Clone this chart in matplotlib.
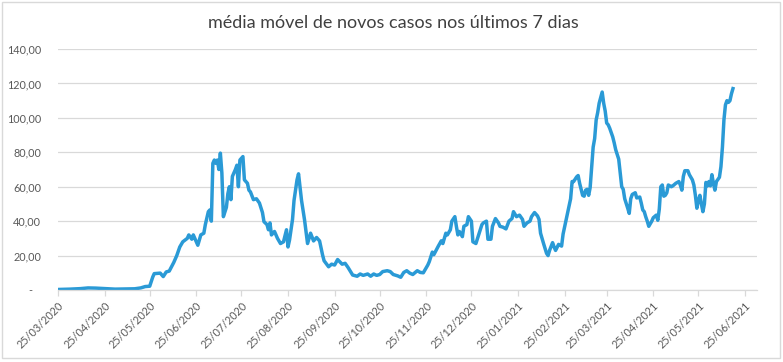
########################################################################################################################
# Media movel de novos casos - 7 dias
########################################################################################################################
import numpy as np
import pandas as pd
import matplotlib
matplotlib.use("Agg")
from matplotlib import pyplot as plt
import matplotlib.dates as mdates
from matplotlib.patches import Rectangle
########################################################################################################################
# Dados (dias contados a partir de 25/03/2020 e media movel)
inicio = "2020-03-25"
dias = [0, 8, 15, 20, 25, 31, 38, 45, 51, 55, 58, 61, 63, 64, 68, 70, 72, 74, 77, 79,
        81, 83, 86, 87, 89, 90, 92, 93, 95, 97, 98, 100, 101, 102, 103, 104, 105, 106, 107, 108,
        109, 110, 112, 113, 114, 115, 116, 118, 119, 120, 121, 123, 124, 126, 127, 128, 130, 132, 134, 136,
        137, 139, 140, 141, 142, 144, 146, 148, 150, 152, 153, 154, 156, 157, 159, 160, 162, 164, 166, 168,
        170, 172, 174, 176, 177, 180, 182, 184, 186, 189, 191, 193, 196, 199, 201, 203, 206, 208, 210, 212,
        214, 216, 219, 221, 223, 226, 228, 230, 232, 234, 236, 239, 241, 243, 246, 247, 249, 250, 253, 255,
        256, 258, 259, 261, 262, 264, 265, 266, 267, 269, 270, 272, 273, 275, 276, 278, 280, 282, 283, 285,
        286, 288, 289, 291, 293, 294, 296, 298, 300, 302, 303, 305, 307, 309, 310, 312, 314, 315, 317, 319,
        320, 321, 323, 325, 326, 327, 329, 330, 331, 333, 334, 335, 336, 338, 339, 341, 342, 343, 345, 346,
        347, 349, 350, 351, 352, 353, 354, 355, 356, 357, 358, 359, 360, 362, 363, 364, 365, 366, 367, 369,
        370, 371, 373, 374, 375, 376, 377, 379, 380, 381, 382, 384, 385, 387, 388, 389, 390, 391, 392, 393,
        395, 396, 398, 399, 400, 401, 402, 403, 404, 405, 406, 408, 409, 411, 413, 414, 415, 416, 417, 419,
        420, 422, 423, 424, 425, 426, 427, 428, 429, 430, 431, 432, 433, 434, 435, 436, 437, 438, 440, 441,
        442, 443, 444, 445, 446, 447, 448, 449]
media = [0.3, 0.5, 0.8, 1.2, 1.1, 0.8, 0.5, 0.6, 0.7, 1.2, 2.0, 2.2, 7.5, 9.5, 9.8, 7.8, 10.5, 11.0, 16.0, 20.0,
         25.0, 28.0, 30.0, 32.0, 29.5, 32.0, 28.0, 26.0, 32.0, 33.0, 38.0, 45.5, 46.5, 40.0, 73.6, 75.5, 73.6, 75.5, 70.0, 79.5,
         68.0, 42.6, 48.0, 56.0, 60.0, 52.5, 66.0, 70.0, 72.5, 60.0, 75.5, 77.5, 64.0, 62.0, 58.0, 57.0, 52.5, 53.0, 50.5, 45.0,
         39.7, 38.0, 35.0, 39.0, 32.0, 34.0, 30.0, 27.0, 28.0, 35.0, 25.0, 29.0, 41.0, 52.0, 64.0, 67.5, 52.0, 40.7, 27.0, 33.0,
         28.5, 30.5, 28.5, 20.3, 17.0, 13.5, 15.0, 14.5, 17.7, 15.0, 15.5, 13.0, 8.7, 8.0, 9.3, 8.5, 9.3, 8.0, 9.3, 8.5,
         9.0, 10.7, 11.2, 10.7, 9.0, 8.2, 7.4, 10.2, 11.2, 9.8, 9.0, 11.2, 10.2, 10.0, 14.5, 16.5, 22.0, 20.5, 25.5, 28.6,
         27.0, 33.0, 32.0, 35.0, 40.0, 42.6, 37.0, 32.0, 34.0, 31.0, 37.0, 38.0, 42.6, 40.0, 28.0, 27.0, 32.5, 38.0, 39.0, 40.0,
         29.5, 29.5, 37.0, 41.5, 39.0, 37.0, 36.5, 35.5, 40.0, 41.5, 45.5, 42.6, 43.5, 41.0, 37.0, 39.0, 40.0, 42.6, 45.0, 43.0,
         41.0, 33.0, 27.0, 21.3, 20.0, 23.0, 27.5, 25.0, 23.0, 26.5, 26.0, 25.5, 32.5, 40.7, 44.5, 53.0, 63.0, 63.0, 65.7, 66.5,
         62.0, 55.0, 54.5, 58.0, 58.5, 55.0, 59.5, 71.6, 83.0, 88.0, 98.8, 103.0, 108.5, 115.0, 108.5, 104.0, 97.0, 96.0, 94.0, 89.0,
         85.5, 81.5, 76.0, 68.0, 60.0, 58.5, 53.0, 47.5, 44.5, 53.0, 55.5, 56.5, 53.5, 54.0, 50.5, 46.5, 45.5, 42.5, 40.0, 37.0,
         40.0, 42.0, 43.5, 40.5, 47.0, 60.0, 61.0, 54.5, 55.0, 56.5, 61.0, 60.0, 60.5, 62.0, 63.0, 61.0, 58.0, 66.0, 69.3, 69.3,
         67.0, 64.0, 61.0, 55.0, 47.5, 52.0, 55.0, 50.0, 45.5, 50.0, 62.5, 60.5, 63.0, 60.5, 67.0, 62.0, 58.0, 63.0, 65.5, 71.6,
         83.0, 98.8, 107.5, 110.0, 109.0, 110.0, 114.0, 117.0]
titulo = "média móvel de novos casos nos últimos 7 dias"
yticks = [0, 20, 40, 60, 80, 100, 120, 140]
########################################################################################################################
datas = pd.Timestamp(inicio) + pd.to_timedelta(dias, unit="D")
marcas = pd.date_range("2020-03-01", "2021-06-01", freq="MS") + pd.Timedelta(days=24)

plt.rcParams['font.family'] = ['Lato', 'DejaVu Sans']
cinza = "#595959"

fig = plt.figure(figsize=(7.83, 3.62), dpi=100)
fig.patches.append(Rectangle((0.002, 0.01), 0.994, 0.985, transform=fig.transFigure,
                             fill=False, edgecolor="#D9D9D9", linewidth=1))
ax = fig.add_axes([0.0741, 0.1989, 0.8927, 0.6657])

ax.plot(datas, media, color="#2A9AD6", linewidth=2.5, solid_joinstyle="round")

ax.set_ylim(0, 140)
ax.set_yticks(yticks)
ax.set_yticklabels(["-   "] + ["%d,00" % v for v in yticks[1:]])
ax.set_xlim(pd.Timestamp(inicio), pd.Timestamp(inicio) + pd.Timedelta(days=465))
ax.set_xticks(marcas)
ax.xaxis.set_major_formatter(mdates.DateFormatter("%d/%m/%Y"))

ax.grid(axis="y", color="#D9D9D9", linewidth=0.9)
ax.set_axisbelow(True)
for lado in ["top", "right", "left"]:
    ax.spines[lado].set_visible(False)
ax.spines["bottom"].set_color("#D9D9D9")
ax.spines["bottom"].set_linewidth(0.9)
ax.tick_params(axis="y", length=0, labelsize=7.8, labelcolor=cinza, pad=12)
ax.tick_params(axis="x", length=4, color="#D9D9D9", width=0.9, labelsize=7.8, labelcolor=cinza, pad=3)
for rot in ax.get_xticklabels():
    rot.set_rotation(45)
    rot.set_ha("right")
    rot.set_rotation_mode("anchor")

fig.text(0.503, 0.937, titulo, ha="center", va="center", fontsize=13, color="#404040")

fig.savefig("out.png", dpi=100)
########################################################################################################################
